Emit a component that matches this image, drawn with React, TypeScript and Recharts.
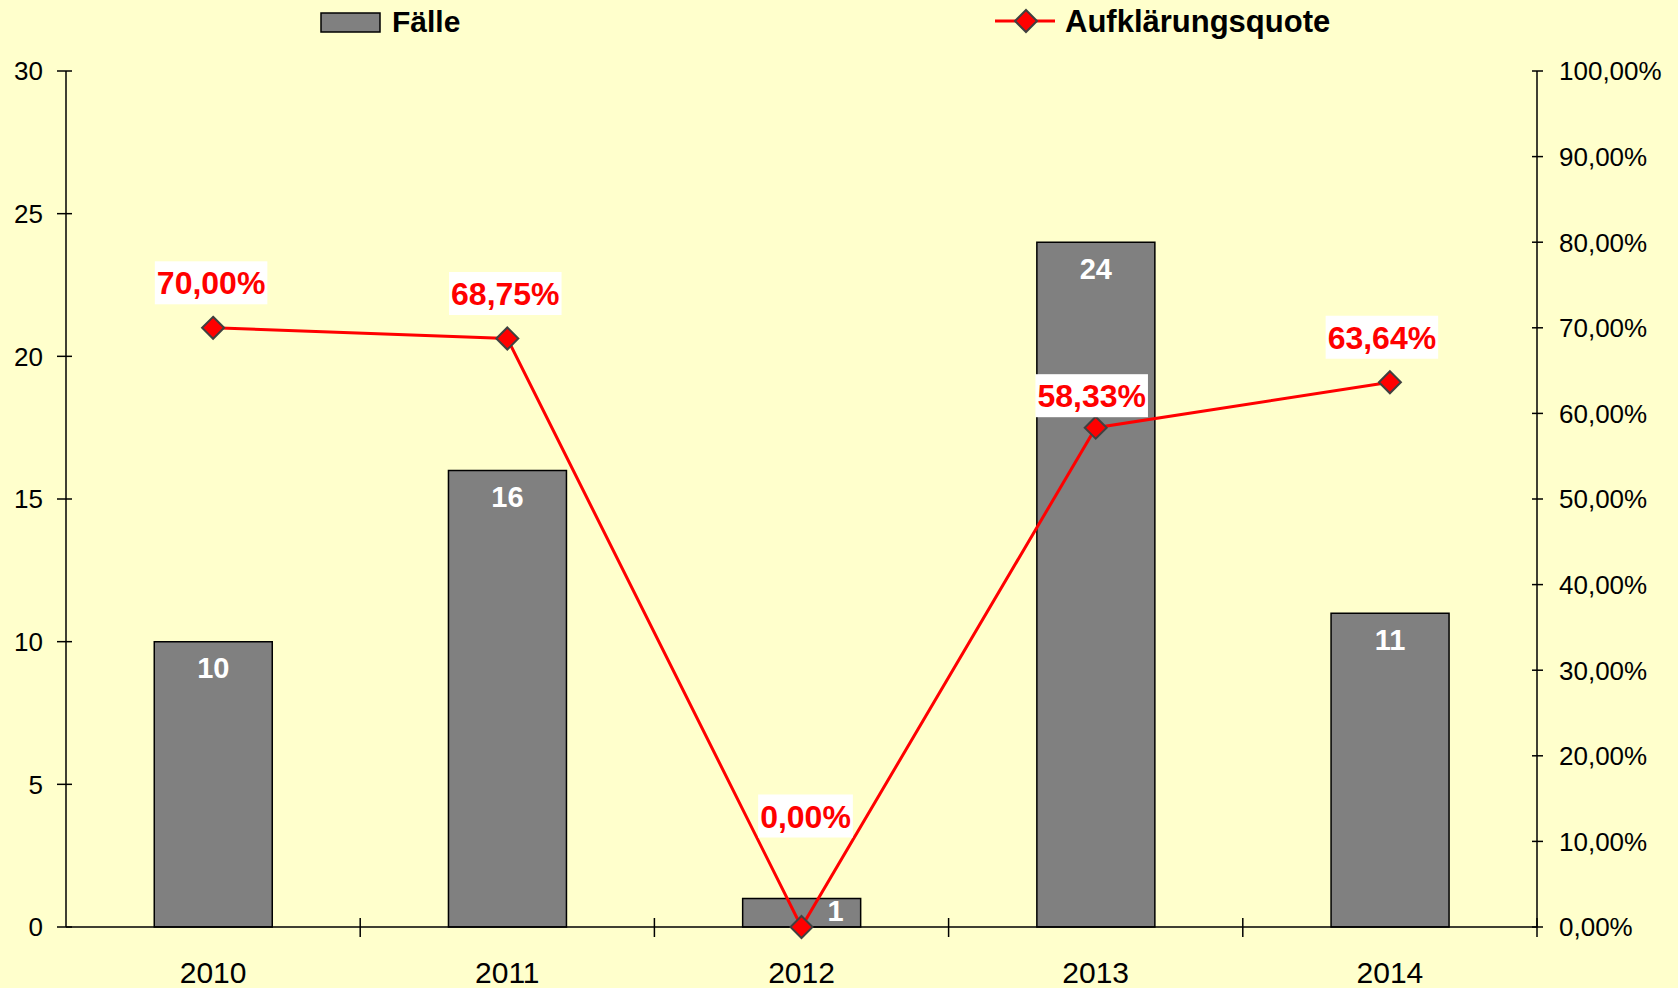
import React from 'react';
import { ComposedChart, Bar, Line, XAxis, YAxis, Legend, LabelList } from 'recharts';

const years = ['2010', '2011', '2012', '2013', '2014'];
const cases = [10, 16, 1, 24, 11];
const clearanceRate = [0.7, 0.6875, 0, 0.5833, 0.6364];
const leftTicks = [0, 5, 10, 15, 20, 25, 30];
const rightTicks = [0, 0.1, 0.2, 0.3, 0.4, 0.5, 0.6, 0.7, 0.8, 0.9, 1];
const seriesNames = ['Fälle', 'Aufklärungsquote'];

const data = years.map((y, i) => ({ year: y, cases: cases[i], rate: clearanceRate[i] }));

const FONT = '"Liberation Sans", Arial, Helvetica, sans-serif';
const W = 1678;
const H = 988;
const LEFT_W = 66;
const RIGHT_W = 141;
const XAXIS_H = 61;
const TOP = 71;

const fmtPct = (v: number) => (v * 100).toFixed(2).replace('.', ',') + '%';

const LeftTick = (props: any) => {
  const { x, y, payload } = props;
  return (
    <g>
      <line x1={x + 14} x2={x + 29} y1={y} y2={y} stroke="#000" strokeWidth={1.5} />
      <text x={x} y={y} dy="0.36em" textAnchor="end" fontFamily={FONT} fontSize={26} fill="#000">
        {payload.value}
      </text>
    </g>
  );
};

const RightTick = (props: any) => {
  const { x, y, payload } = props;
  return (
    <g>
      <line x1={x - 27} x2={x - 16} y1={y} y2={y} stroke="#000" strokeWidth={1.5} />
      <text x={x} y={y} dy="0.36em" textAnchor="start" fontFamily={FONT} fontSize={26} fill="#000">
        {fmtPct(payload.value)}
      </text>
    </g>
  );
};

const XTick = (props: any) => {
  const { x, y, payload, index } = props;
  const half = payload && typeof payload.offset === 'number' && payload.offset > 0
    ? payload.offset
    : (W - LEFT_W - RIGHT_W) / years.length / 2;
  const axisY = y - 35;
  const isLast = index === years.length - 1;
  return (
    <g>
      {index > 0 && (
        <line x1={x - half} x2={x - half} y1={axisY - 9} y2={axisY + 10} stroke="#000" strokeWidth={1.5} />
      )}
      {isLast && (
        <line x1={x + half} x2={x + half} y1={axisY - 9} y2={axisY + 10} stroke="#000" strokeWidth={1.5} />
      )}
      <text x={x} y={y} dy="0.71em" textAnchor="middle" fontFamily={FONT} fontSize={30} fill="#000">
        {payload.value}
      </text>
    </g>
  );
};

const Diamond = (props: any) => {
  const { cx, cy } = props;
  if (cx == null || cy == null) return null;
  const r = 11;
  return (
    <polygon
      points={`${cx},${cy - r} ${cx + r},${cy} ${cx},${cy + r} ${cx - r},${cy}`}
      fill="#FF0000"
      stroke="#404040"
      strokeWidth={2}
    />
  );
};

const barLabelShiftX: Record<number, number> = { 2: 34 };

const BarLabel = (props: any) => {
  const { x, y, width, height, value, index } = props;
  const cx = x + width / 2 + (barLabelShiftX[index] || 0);
  const cy = Math.min(y + 26, y + height / 2 - 2);
  return (
    <text x={cx} y={cy} dy="0.36em" textAnchor="middle" fontFamily={FONT} fontWeight="bold" fontSize={29} fill="#FFFFFF">
      {value}
    </text>
  );
};

const lineLabelShiftY: Record<number, number> = { 2: -111, 3: -32 };
const lineLabelShiftX: Record<number, number> = { 0: -2, 1: -2, 2: 4, 3: -4, 4: -8 };

const charW = (s: string) =>
  s.split('').reduce((a, c) => a + (c === ',' ? 0.278 : c === '%' ? 0.889 : 0.556), 0);

const LineLabel = (props: any) => {
  const { x, y, value, index } = props;
  const txt = fmtPct(value);
  const fs = 32;
  const tw = charW(txt) * fs;
  const bw = tw + 4;
  const bh = 43;
  const cy = y + (lineLabelShiftY[index] ?? -45);
  const cx = x + (lineLabelShiftX[index] ?? 0);
  return (
    <g>
      <rect x={cx - bw / 2} y={cy - bh / 2} width={bw} height={bh} fill="#FFFFFF" />
      <text x={cx} y={cy} dy="0.36em" textAnchor="middle" fontFamily={FONT} fontWeight="bold" fontSize={fs} fill="#FF0000">
        {txt}
      </text>
    </g>
  );
};

const LegendContent = () => (
  <svg width={W} height={50} style={{ display: 'block' }}>
    <rect x={321} y={13} width={59} height={19} fill="#808080" stroke="#000" strokeWidth={1.5} />
    <text x={392} y={32} fontFamily={FONT} fontWeight="bold" fontSize={30} fill="#000">
      {seriesNames[0]}
    </text>
    <line x1={995} x2={1055} y1={21} y2={21} stroke="#FF0000" strokeWidth={3} />
    <polygon points="1026,10 1037,21 1026,32 1015,21" fill="#FF0000" stroke="#404040" strokeWidth={2} />
    <text x={1065} y={32} fontFamily={FONT} fontWeight="bold" fontSize={31} fill="#000">
      {seriesNames[1]}
    </text>
  </svg>
);

export default function App() {
  return (
    <div style={{ position: 'absolute', left: 0, top: 0, width: W, height: H, background: '#FFFFCC' }}>
      <ComposedChart
        width={W}
        height={H}
        data={data}
        margin={{ top: TOP, right: 0, bottom: 0, left: 0 }}
        barCategoryGap="30%"
      >
        <XAxis
          dataKey="year"
          height={XAXIS_H}
          stroke="#000"
          strokeWidth={1.5}
          tickLine={false}
          tickSize={10}
          tickMargin={25}
          tick={<XTick />}
          interval={0}
        />
        <YAxis
          yAxisId="left"
          orientation="left"
          width={LEFT_W}
          domain={[0, 30]}
          ticks={leftTicks}
          stroke="#000"
          strokeWidth={1.5}
          tickLine={false}
          tickSize={9}
          tickMargin={14}
          tick={<LeftTick />}
          interval={0}
        />
        <YAxis
          yAxisId="right"
          orientation="right"
          width={RIGHT_W}
          domain={[0, 1]}
          ticks={rightTicks}
          stroke="#000"
          strokeWidth={1.5}
          tickLine={false}
          tickSize={5}
          tickMargin={17}
          tick={<RightTick />}
          interval={0}
        />
        <Legend
          layout="vertical"
          align="center"
          verticalAlign="middle"
          wrapperStyle={{ top: 0, left: 0, width: W, height: 50 }}
          content={<LegendContent />}
        />
        <Bar
          yAxisId="left"
          dataKey="cases"
          name={seriesNames[0]}
          fill="#808080"
          stroke="#000"
          strokeWidth={1.5}
          isAnimationActive={false}
        >
          <LabelList dataKey="cases" content={<BarLabel />} />
        </Bar>
        <Line
          yAxisId="right"
          dataKey="rate"
          name={seriesNames[1]}
          type="linear"
          stroke="#FF0000"
          strokeWidth={3}
          dot={<Diamond />}
          activeDot={false}
          isAnimationActive={false}
        >
          <LabelList dataKey="rate" content={<LineLabel />} />
        </Line>
      </ComposedChart>
    </div>
  );
}
